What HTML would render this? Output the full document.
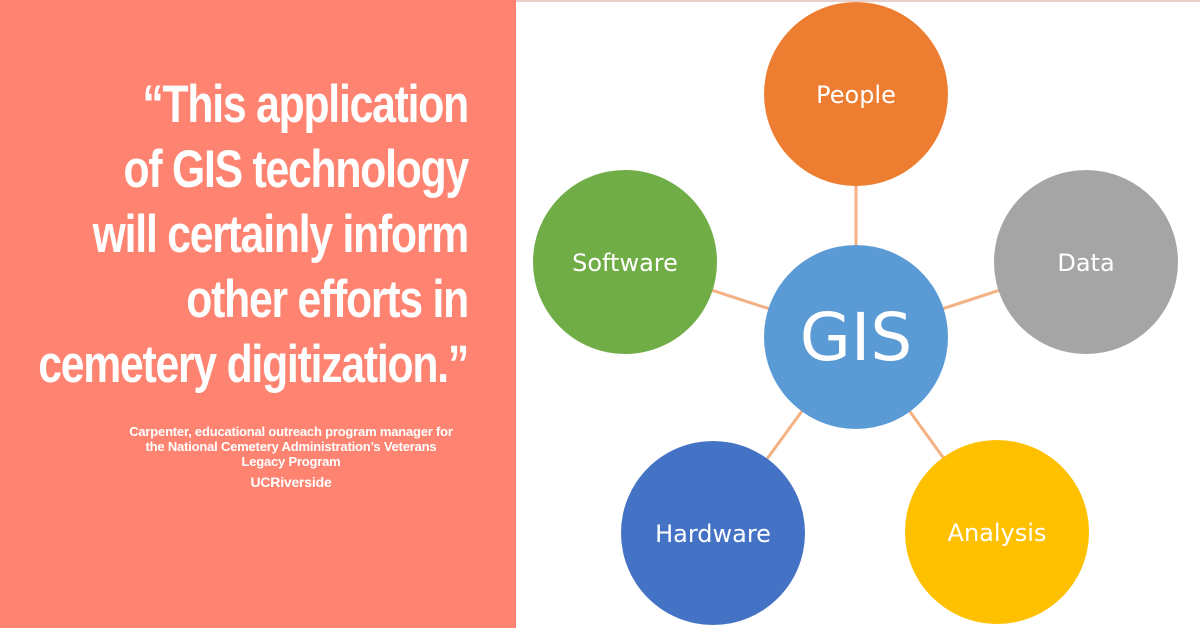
<!DOCTYPE html>
<html><head><meta charset="utf-8"><style>
body{margin:0;width:1200px;height:628px;overflow:hidden;background:#fff;position:relative;font-family:"Liberation Sans Narrow","Liberation Sans",sans-serif}
#left{position:absolute;left:0;top:0;width:516px;height:628px;background:#ff8371;overflow:hidden}
.q{position:absolute;width:468px;color:#fff;font-weight:bold;font-size:53px;line-height:65px;top:72px;letter-spacing:-1.5px;left:0;transform:scaleX(0.805);transform-origin:468px 0;display:flex;flex-direction:column;align-items:flex-end}
.q div{white-space:nowrap}
.a{position:absolute;left:121px;width:340px;top:424px;text-align:center;color:#fff;font-weight:bold;font-size:13px;line-height:15px;letter-spacing:-0.2px}
</style></head><body>
<div id="left">
<div class="q"><div>“This application</div><div>of GIS technology</div><div>will certainly inform</div><div>other efforts in</div><div>cemetery digitization.”</div></div>
<div class="a">Carpenter, educational outreach program manager for<br>the National Cemetery Administration’s Veterans<br>Legacy Program<div style="font-size:14px;margin-top:6px">UCRiverside</div></div>
</div>
<div style="position:absolute;left:516px;top:0;width:684px;height:2px;background:#e8d0cc"></div>
<svg style="position:absolute;left:0;top:0" width="1200" height="628">
<g stroke="#f4b183" stroke-width="3">
<line x1="856" y1="94" x2="856" y2="337"/>
<line x1="625" y1="262" x2="856" y2="337"/>
<line x1="1086" y1="262" x2="856" y2="337"/>
<line x1="713" y1="533" x2="856" y2="337"/>
<line x1="997" y1="532" x2="856" y2="337"/>
</g>
<g font-family="'DejaVu Sans','Liberation Sans',sans-serif" fill="#fff" text-anchor="middle">
<circle cx="856" cy="94" r="92" fill="#ed7d31"/><text x="856" y="103" font-size="24">People</text>
<circle cx="625" cy="262" r="92" fill="#70ad47"/><text x="625" y="271" font-size="24">Software</text>
<circle cx="1086" cy="262" r="92" fill="#a5a5a5"/><text x="1086" y="271" font-size="24">Data</text>
<circle cx="856" cy="337" r="92" fill="#5b9bd5"/><text x="856" y="360" font-size="66">GIS</text>
<circle cx="713" cy="533" r="92" fill="#4472c4"/><text x="713" y="542" font-size="24">Hardware</text>
<circle cx="997" cy="532" r="92" fill="#ffc000"/><text x="997" y="541" font-size="24">Analysis</text>
</g>
</svg>
</body></html>
